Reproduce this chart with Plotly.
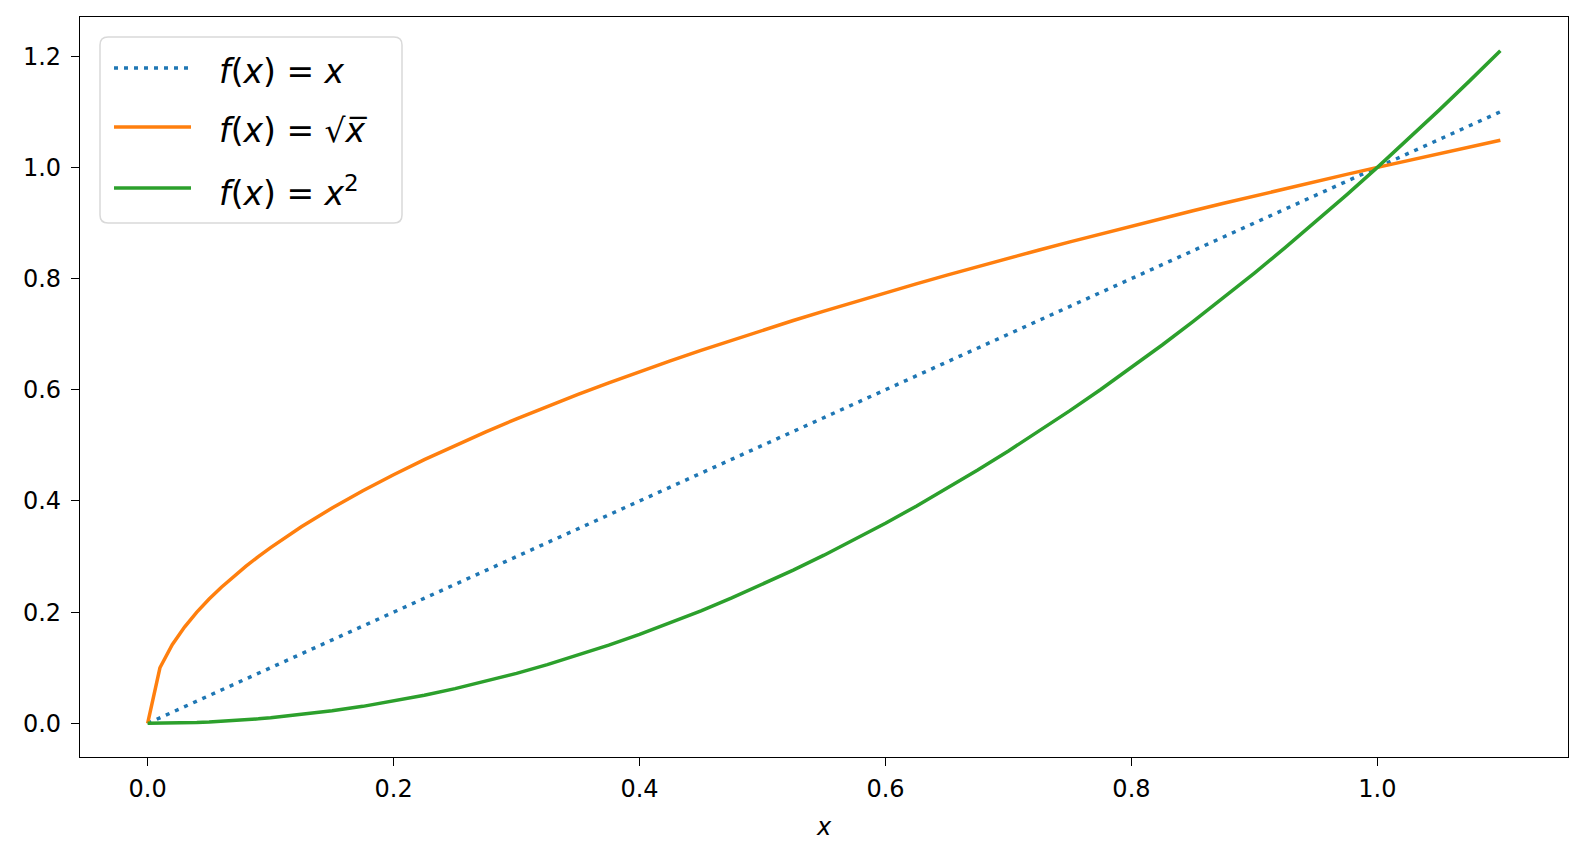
import plotly.graph_objects as go

# values
x_vals = [0, 0.01, 0.02, 0.03, 0.04, 0.05, 0.06, 0.07, 0.08, 0.09, 0.1,
          0.125, 0.15, 0.175, 0.2, 0.225, 0.25, 0.275, 0.3, 0.325, 0.35, 0.375,
          0.4, 0.425, 0.45, 0.475, 0.5, 0.525, 0.55, 0.575, 0.6, 0.625, 0.65,
          0.675, 0.7, 0.725, 0.75, 0.775, 0.8, 0.825, 0.85, 0.875, 0.9, 0.925,
          0.95, 0.975, 1.0, 1.025, 1.05, 1.075, 1.1]
y_linear = [0, 0.01, 0.02, 0.03, 0.04, 0.05, 0.06, 0.07, 0.08, 0.09, 0.1,
            0.125, 0.15, 0.175, 0.2, 0.225, 0.25, 0.275, 0.3, 0.325, 0.35, 0.375,
            0.4, 0.425, 0.45, 0.475, 0.5, 0.525, 0.55, 0.575, 0.6, 0.625, 0.65,
            0.675, 0.7, 0.725, 0.75, 0.775, 0.8, 0.825, 0.85, 0.875, 0.9, 0.925,
            0.95, 0.975, 1.0, 1.025, 1.05, 1.075, 1.1]
y_sqrt = [0, 0.1, 0.1414, 0.1732, 0.2, 0.2236, 0.2449, 0.2646, 0.2828, 0.3, 0.3162,
          0.3536, 0.3873, 0.4183, 0.4472, 0.4743, 0.5, 0.5244, 0.5477, 0.5701, 0.5916,
          0.6124, 0.6325, 0.6519, 0.6708, 0.6892, 0.7071, 0.7246, 0.7416, 0.7583,
          0.7746, 0.7906, 0.8062, 0.8216, 0.8367, 0.8515, 0.866, 0.8803, 0.8944,
          0.9083, 0.922, 0.9354, 0.9487, 0.9618, 0.9747, 0.9874, 1.0, 1.0124, 1.0247,
          1.0368, 1.0488]
y_square = [0, 0.0001, 0.0004, 0.0009, 0.0016, 0.0025, 0.0036, 0.0049, 0.0064, 0.0081,
            0.01, 0.0156, 0.0225, 0.0306, 0.04, 0.0506, 0.0625, 0.0756, 0.09, 0.1056,
            0.1225, 0.1406, 0.16, 0.1806, 0.2025, 0.2256, 0.25, 0.2756, 0.3025, 0.3306,
            0.36, 0.3906, 0.4225, 0.4556, 0.49, 0.5256, 0.5625, 0.6006, 0.64, 0.6806,
            0.7225, 0.7656, 0.81, 0.8556, 0.9025, 0.9506, 1.0, 1.0506, 1.1025, 1.1556,
            1.21]

names = ['<i>f</i>(<i>x</i>) = <i>x</i>',
         '<i>f</i>(<i>x</i>) = √<i>x̅</i>',
         '<i>f</i>(<i>x</i>) = <i>x</i><sup>2</sup>']
colors = ['#1f77b4', '#ff7f0e', '#2ca02c']
dashes = ['4px,6px', 'solid', 'solid']
series = [y_linear, y_sqrt, y_square]

# page is drawn 8px in from the window corner (body margin)
OFF = 8
W, H = 1587 - OFF, 858 - OFF
# plot area in window pixels
L, R, T, B = 80, 1568, 17, 757

def px_x(p):
    return (p - L) / (R - L)

def px_y(p):
    return 1 - (p - T) / (B - T)

fig = go.Figure()
for ys, name, c, d in zip(series, names, colors, dashes):
    fig.add_trace(go.Scatter(x=x_vals, y=ys, mode='lines', name=name,
                             line=dict(color=c, width=3.5, dash=d)))

# legend drawn by hand (rounded frame like matplotlib)
shapes = []
x0, x1, y0, y1, r = px_x(100), px_x(402), px_y(37), px_y(223), 8
shapes.append(dict(
    type='path', xref='paper', yref='paper', layer='above',
    path=f'M {px_x(100 + r)} {y0} L {px_x(402 - r)} {y0} '
         f'Q {x1} {y0} {x1} {px_y(37 + r)} L {x1} {px_y(223 - r)} '
         f'Q {x1} {y1} {px_x(402 - r)} {y1} L {px_x(100 + r)} {y1} '
         f'Q {x0} {y1} {x0} {px_y(223 - r)} L {x0} {px_y(37 + r)} '
         f'Q {x0} {y0} {px_x(100 + r)} {y0} Z',
    line=dict(color='#d9d9d9', width=1.5), fillcolor='rgba(255,255,255,0.8)'))
rows = [68, 127, 188]
annotations = []
for ry, name, c, d in zip(rows, names, colors, dashes):
    shapes.append(dict(type='line', xref='paper', yref='paper', layer='above',
                       x0=px_x(114), x1=px_x(191), y0=px_y(ry), y1=px_y(ry),
                       line=dict(color=c, width=3.5, dash=d)))
    annotations.append(dict(xref='paper', yref='paper', x=px_x(217), y=px_y(ry + 3),
                            xanchor='left', yanchor='middle', showarrow=False,
                            text=name, font=dict(size=33, color='black')))

axis_style = dict(showline=True, linecolor='black', linewidth=1.3, mirror=True,
                  ticks='outside', ticklen=8, tickwidth=1.3, tickcolor='black',
                  showgrid=False, zeroline=False, tickformat='.1f', dtick=0.2,
                  tickfont=dict(size=24, color='black'), automargin=False)

fig.update_layout(
    width=W, height=H,
    margin=dict(l=L - OFF, r=1587 - R, t=T - OFF, b=858 - B),
    plot_bgcolor='white', paper_bgcolor='white',
    font=dict(family='DejaVu Sans', color='black'),
    showlegend=False,
    xaxis=dict(range=[-0.055, 1.155], tick0=0, ticklabelstandoff=2,
               title=dict(text='<i>x</i>', font=dict(size=24), standoff=16), **axis_style),
    yaxis=dict(range=[-0.0605, 1.2705], tick0=0, ticklabelstandoff=5, **axis_style),
    shapes=shapes, annotations=annotations,
)

fig.write_html("out.html")
